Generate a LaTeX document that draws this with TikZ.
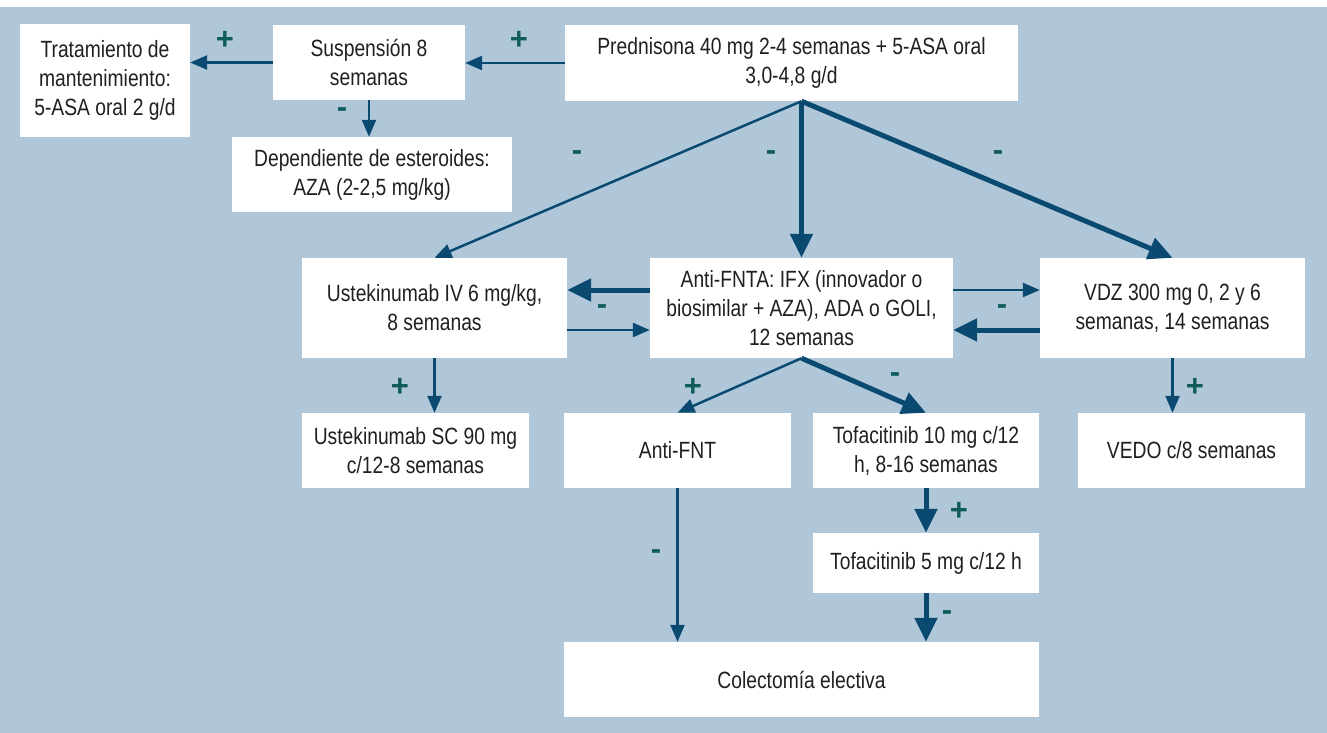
\documentclass[tikz,border=0pt]{standalone}
\usepackage{fontspec}
\setmainfont{Liberation Sans}[FakeStretch=0.82]
\newfontfamily\signfont{Liberation Sans}
\usetikzlibrary{arrows.meta,positioning}
\definecolor{bgblue}{HTML}{B0C7DA}
\definecolor{arrowblue}{HTML}{0A4A70}
\definecolor{signgreen}{HTML}{105C5C}
\definecolor{txtgray}{HTML}{231F20}
\tikzset{
box/.style 2 args={
  rectangle,
  fill=white,
  inner sep=0pt,
  minimum width=#1pt,
  minimum height=#2pt,
  align=center,
  text=txtgray,
  font=\fontsize{23.5}{29}\selectfont
  }
}
\tikzset{
  thinarr/.style={draw=arrowblue, line width=2.5pt,
    -{Triangle[length=17pt,width=14pt]}, arrowblue},
  thickarr/.style={draw=arrowblue, line width=5pt,
    -{Triangle[length=24pt,width=22pt]}, arrowblue},
  sign/.style={text=signgreen, inner sep=0pt,
    font=\signfont\bfseries\fontsize{31}{31}\selectfont}
}
\begin{document}
\begin{tikzpicture}[x=1pt,y=-1pt]
\fill[bgblue] (0,7) rectangle (1327,733);
\useasboundingbox (0,0) rectangle (1327,733);

% boxes
\node[box={170}{113}] (trat) at (105,80.5) {Tratamiento de\\mantenimiento:\\5-ASA oral 2 g/d};
\node[box={192}{75}] (susp) at (369,62.5) {Suspensión 8\\semanas};
\node[box={453}{76}] (pred) at (791.5,63) {Prednisona 40 mg 2-4 semanas + 5-ASA oral\\3,0-4,8 g/d};
\node[box={280}{75}] (dep) at (372,174.5) {Dependiente de esteroides:\\AZA (2-2,5 mg/kg)};
\node[box={265}{100}] (usteiv) at (434.5,308) {Ustekinumab IV 6 mg/kg,\\8 semanas};
\node[box={303}{100}] (anti) at (801.5,308) {Anti-FNTA: IFX (innovador o\\biosimilar + AZA), ADA o GOLI,\\12 semanas};
\node[box={265}{100}] (vdz) at (1172.5,308) {VDZ 300 mg 0, 2 y 6\\semanas, 14 semanas};
\node[box={227}{75}] (ustesc) at (415.5,450.5) {Ustekinumab SC 90 mg\\c/12-8 semanas};
\node[box={227}{75}] (antifnt) at (677.5,450.5) {Anti-FNT};
\node[box={226}{75}] (tofa10) at (926,450.5) {Tofacitinib 10 mg c/12\\h, 8-16 semanas};
\node[box={227}{75}] (vedo) at (1191.5,450.5) {VEDO c/8 semanas};
\node[box={226}{60}] (tofa5) at (926,563) {Tofacitinib 5 mg c/12 h};
\node[box={475}{75}] (colect) at (801.5,679.5) {Colectomía electiva};

% connectors
\coordinate (fork) at (anti.north |- pred.south);
\draw[thinarr] (pred.west) -- (pred.west -| susp.east);
\draw[thinarr] (susp.west) -- (susp.west -| trat.east);
\draw[thinarr] (susp.south) -- (susp.south |- dep.north);
\draw[thinarr] (fork) -- (usteiv.north);
\draw[thickarr] (fork) -- (anti.north);
\draw[thickarr] (fork) -- (vdz.north);
\draw[thickarr] ([yshift=18pt]anti.west) -- ([yshift=18pt]anti.west -| usteiv.east);
\draw[thinarr] ([yshift=-22pt]usteiv.east) -- ([yshift=-22pt]usteiv.east -| anti.west);
\draw[thinarr] ([yshift=18pt]anti.east) -- ([yshift=18pt]anti.east -| vdz.west);
\draw[thickarr] ([yshift=-22pt]vdz.west) -- ([yshift=-22pt]vdz.west -| anti.east);
\draw[thinarr] (usteiv.south) -- (usteiv.south |- ustesc.north);
\draw[thinarr] (anti.south) -- (antifnt.north);
\draw[thickarr] (anti.south) -- (tofa10.north);
\draw[thinarr] (vdz.south) -- (vdz.south |- vedo.north);
\draw[thinarr] (antifnt.south) -- (antifnt.south |- colect.north);
\draw[thickarr] (tofa10.south) -- (tofa5.north);
\draw[thickarr] (tofa5.south) -- (tofa5.south |- colect.north);

% signs
\node[sign] (sgnpred) at (519,40) {+};
\node[sign] (sgnsusp) at (225,40) {+};
\node[sign] (sgndep) at (342,113) {-};
\node[sign] (sgnuste) at (577,156) {-};
\node[sign] (sgnanti) at (771,156) {-};
\node[sign] (sgnvdz) at (998,156) {-};
\node[sign] (sgnleft) at (602,310) {-};
\node[sign] (sgnright) at (1002,310) {-};
\node[sign] (sgnustesc) at (400,387) {+};
\node[sign] (sgnantifnt) at (693,387) {+};
\node[sign] (sgntofa) at (895,378) {-};
\node[sign] (sgnvedo) at (1195,387) {+};
\node[sign] (sgncolect) at (656,555) {-};
\node[sign] (sgntofafive) at (959,511) {+};
\node[sign] (sgnlast) at (947,616) {-};
\end{tikzpicture}
\end{document}
